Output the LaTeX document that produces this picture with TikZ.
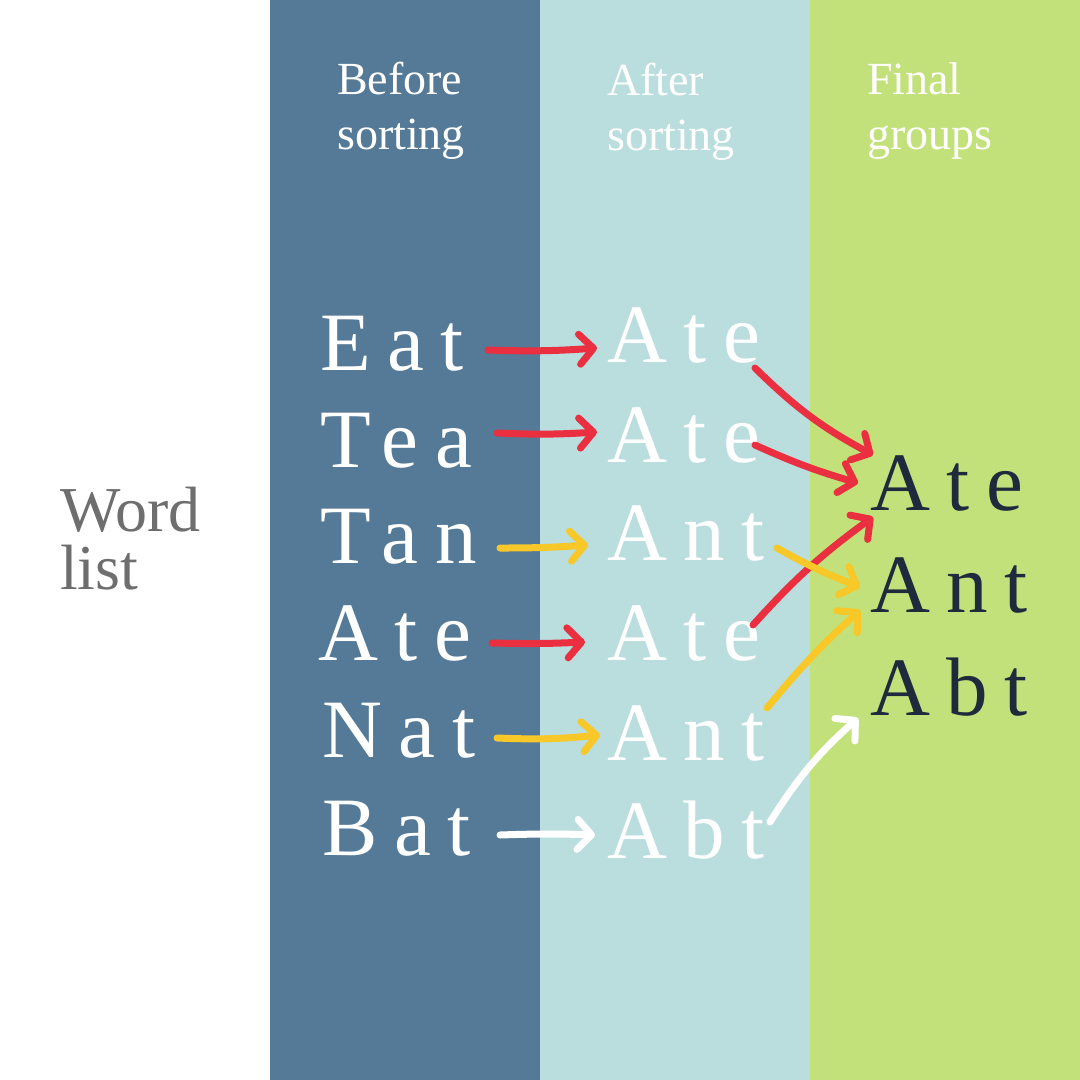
\documentclass[tikz,border=0pt]{standalone}
\usepackage{fontspec}
\setmainfont{Liberation Serif}
\newfontfamily\bigfont[LetterSpace=20]{Liberation Serif}
\usetikzlibrary{arrows.meta,calc}
\definecolor{coldark}{RGB}{84,122,152}
\definecolor{collight}{RGB}{186,221,222}
\definecolor{colgreen}{RGB}{194,225,122}
\definecolor{colgray}{RGB}{110,110,110}
\definecolor{colnavy}{RGB}{31,42,60}
\definecolor{arrred}{RGB}{234,48,64}
\definecolor{arryel}{RGB}{247,200,40}
\tikzset{
  header/.style={font=\fontsize{46}{55}\selectfont, text=white, inner sep=0, anchor=base west, align=left},
  word/.style={font=\bigfont\fontsize{83}{98}\selectfont, text=white, inner sep=0, anchor=base west},
  final/.style={word, text=colnavy},
  hand/.style={line width=7pt, line cap=round, line join=round, -{Straight Barb[length=14pt,width=30pt,round]}},
  redarr/.style={hand, draw=arrred},
  yelarr/.style={hand, draw=arryel},
  whitearr/.style={hand, draw=white},
}
\begin{document}
\begin{tikzpicture}[x=1pt,y=-1pt]
\useasboundingbox (0,0) rectangle (1080,1080);
\fill[white] (0,0) rectangle (270,1080);
\fill[coldark] (270,0) rectangle (540,1080);
\fill[collight] (540,0) rectangle (810,1080);
\fill[colgreen] (810,0) rectangle (1080,1080);

% headers (base anchor = baseline of last line)
\node[header] (h1) at (337,149) {Before\\sorting};
\node[header] (h2) at (607,150) {After\\sorting};
\node[header] (h3) at (867,149) {Final\\groups};
\node[header, text=colgray, font=\fontsize{64}{58}\selectfont] (wl) at (60,589) {Word\\list};

% left words
\node[word] (l1) at (320,370) {Eat};
\node[word] (l2) at (320,467) {Tea};
\node[word] (l3) at (320,563) {Tan};
\node[word] (l4) at (318,660) {Ate};
\node[word] (l5) at (322,757) {Nat};
\node[word] (l6) at (322,855) {Bat};
% middle words
\node[word] (m1) at (607,362) {Ate};
\node[word] (m2) at (607,462) {Ate};
\node[word] (m3) at (607,560) {Ant};
\node[word] (m4) at (607,660) {Ate};
\node[word] (m5) at (607,760) {Ant};
\node[word] (m6) at (607,858) {Abt};
% final words
\node[final] (f1) at (870,510) {Ate};
\node[final] (f2) at (870,612) {Ant};
\node[final] (f3) at (870,715) {Abt};

% left arrows
\draw[redarr] ($(l1.base west)+(168,-20)$) to[bend right=3] ($(m1.base west)+(-10,-14)$);
\draw[redarr] ($(l2.base west)+(177,-34)$) to[bend right=3] ($(m2.base west)+(-10,-30)$);
\draw[yelarr] ($(l3.base west)+(180,-15)$) to[bend right=2] ($(m3.base west)+(-19,-15)$);
\draw[redarr] ($(l4.base west)+(174,-17)$) to[bend right=2] ($(m4.base west)+(-22,-18)$);
\draw[yelarr] ($(l5.base west)+(175,-19)$) to[bend right=4] ($(m5.base west)+(-7,-25)$);
\draw[whitearr] ($(l6.base west)+(178,-20)$) to[bend left=2] ($(m6.base west)+(-12,-23)$);

% right arrows
\draw[redarr] ($(m1.base west)+(148,6)$) to[bend right=8] ($(f1.base west)+(3,-55)$);
\draw[redarr] ($(m2.base west)+(148,-17)$) to[bend right=4] ($(f1.base west)+(-12,-27)$);
\draw[redarr] ($(m4.base west)+(146,-35)$) to[bend left=6] ($(f1.base west)+(3,7)$);
\draw[yelarr] ($(m3.base west)+(170,-12)$) to[bend right=4] ($(f2.base west)+(-10,-25)$);
\draw[yelarr] ($(m5.base west)+(160,-52)$) to[bend left=4] ($(f2.base west)+(-10,-2)$);
\draw[whitearr] ($(m6.base west)+(163,-36)$) to[bend left=8] ($(f3.base west)+(-12,3)$);
\end{tikzpicture}
\end{document}
